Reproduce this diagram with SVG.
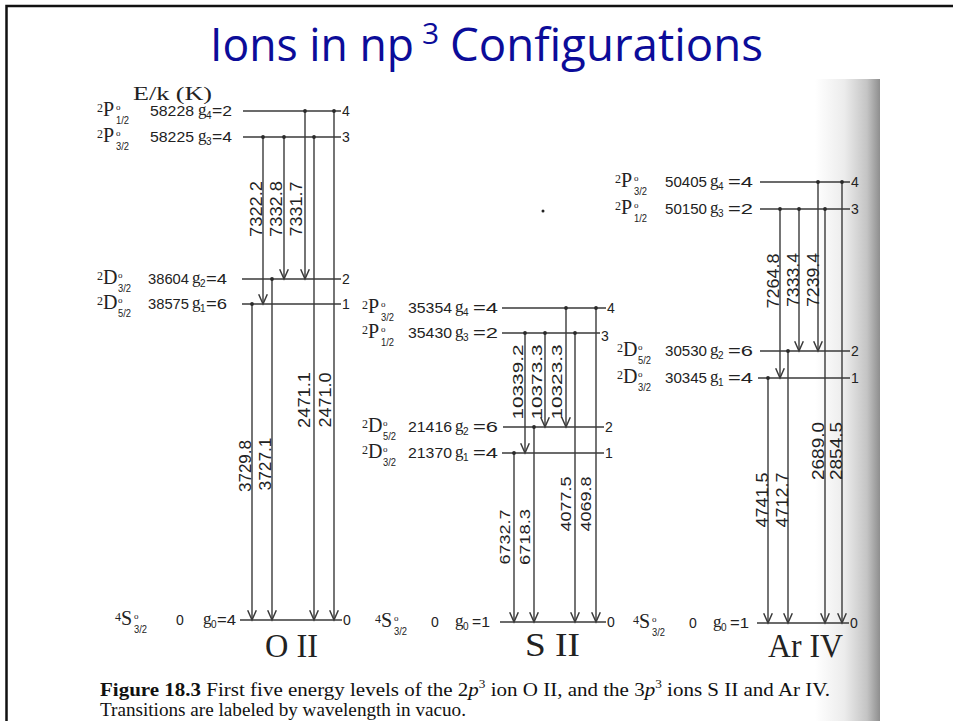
<svg xmlns="http://www.w3.org/2000/svg" width="953" height="721" viewBox="0 0 953 721">
<defs>
<linearGradient id="edge" x1="0" y1="0" x2="1" y2="0">
<stop offset="0" stop-color="#ffffff"/>
<stop offset="0.45" stop-color="#ececec"/>
<stop offset="0.8" stop-color="#c4c4c4"/>
<stop offset="1" stop-color="#8e8e8e"/>
</linearGradient>
<marker id="ah" markerUnits="userSpaceOnUse" markerWidth="14" markerHeight="14" refX="0" refY="0" viewBox="-11 -6 13 12" orient="auto">
<path d="M-9,-4 L0,0 L-9,4" fill="none" stroke="#3a3a3a" stroke-width="1.4"/>
</marker>
<marker id="dot" markerUnits="userSpaceOnUse" markerWidth="6" markerHeight="6" refX="0" refY="0" viewBox="-3 -3 6 6" orient="auto">
<circle r="1.9" fill="#2a2a2a"/>
</marker>
<style>
.lv{stroke:#3a3a3a;stroke-width:1.5}
.tr{stroke:#3a3a3a;stroke-width:1.4;fill:none;marker-end:url(#ah);marker-start:url(#dot)}
.sup{font-family:"Liberation Serif","Times New Roman",serif;font-size:12px;fill:#222}
.L{font-family:"Liberation Serif","Times New Roman",serif;font-size:20px;fill:#222}
.o{font-family:"Liberation Serif","Times New Roman",serif;font-size:9px;fill:#222}
.fr{font-family:"Liberation Sans",Arial,sans-serif;font-size:11px;fill:#222}
.n{font-family:"Liberation Sans",Arial,sans-serif;font-size:14px;fill:#222}
.g{font-family:"Liberation Serif","Times New Roman",serif;font-size:17px;fill:#222}
.gs{font-family:"Liberation Sans",Arial,sans-serif;font-size:10px;fill:#222}
.e{font-family:"Liberation Sans",Arial,sans-serif;font-size:15px;fill:#222}
.end{font-family:"Liberation Sans",Arial,sans-serif;font-size:14px;fill:#222}
.wl{font-family:"Liberation Sans",Arial,sans-serif;font-size:16px;fill:#222;text-anchor:middle}
.ws{font-family:"Liberation Sans",Arial,sans-serif;font-size:14px;fill:#222;text-anchor:middle}
.ion{font-family:"Liberation Serif","Times New Roman",serif;font-size:33px;fill:#222}
.cap{font-family:"Liberation Serif","Times New Roman",serif;font-size:19px;fill:#111}
.ti{font-family:"Open Sans","Noto Sans",sans-serif;fill:#0c0c99}
</style>
</defs>
<rect width="953" height="721" fill="#ffffff"/>
<rect x="815" y="79" width="65" height="642" fill="url(#edge)"/>
<path d="M6.5,721 V6 H953" fill="none" stroke="#111" stroke-width="2.5"/>
<g id="title">
<text class="ti" x="210" y="61" font-size="45" textLength="204" lengthAdjust="spacingAndGlyphs">Ions in np</text>
<text class="ti" x="422" y="44" font-size="30">3</text>
<text class="ti" x="450" y="61" font-size="46" textLength="313" lengthAdjust="spacingAndGlyphs">Configurations</text>
</g>
<circle cx="543" cy="211" r="1.5" fill="#222"/>
<text x="133" y="100" font-family="'Liberation Serif',serif" font-size="18" fill="#222" textLength="79" lengthAdjust="spacingAndGlyphs">E/k (K)</text>

<g id="OII">
<g id="OII-L4">
<line class="lv" x1="243" y1="111" x2="341" y2="111"/>
<g transform="translate(97,111)"><text class="sup" x="0" y="1">2</text><text class="L" x="6" y="5">P</text><text class="o" x="19" y="-1">o</text><text class="fr" x="19" y="13" textLength="13" lengthAdjust="spacingAndGlyphs">1/2</text><text class="n" x="53" y="5" textLength="44" lengthAdjust="spacingAndGlyphs">58228</text><text class="g" x="101" y="4">g</text><text class="gs" x="109" y="8">4</text><text class="e" x="115" y="5" textLength="20" lengthAdjust="spacingAndGlyphs">=2</text></g>
<text class="end" x="342" y="116">4</text>
</g>
<g id="OII-L3">
<line class="lv" x1="243" y1="137" x2="341" y2="137"/>
<g transform="translate(97,137)"><text class="sup" x="0" y="1">2</text><text class="L" x="6" y="5">P</text><text class="o" x="19" y="-1">o</text><text class="fr" x="19" y="13" textLength="13" lengthAdjust="spacingAndGlyphs">3/2</text><text class="n" x="53" y="5" textLength="44" lengthAdjust="spacingAndGlyphs">58225</text><text class="g" x="101" y="4">g</text><text class="gs" x="109" y="8">3</text><text class="e" x="115" y="5" textLength="20" lengthAdjust="spacingAndGlyphs">=4</text></g>
<text class="end" x="342" y="142">3</text>
</g>
<g id="OII-L2">
<line class="lv" x1="242" y1="279" x2="341" y2="279"/>
<g transform="translate(97,279)"><text class="sup" x="0" y="1">2</text><text class="L" x="6" y="5">D</text><text class="o" x="21" y="-1">o</text><text class="fr" x="21" y="13" textLength="13" lengthAdjust="spacingAndGlyphs">3/2</text><text class="n" x="51" y="5" textLength="41" lengthAdjust="spacingAndGlyphs">38604</text><text class="g" x="95" y="4">g</text><text class="gs" x="103" y="8">2</text><text class="e" x="109" y="5" textLength="21" lengthAdjust="spacingAndGlyphs">=4</text></g>
<text class="end" x="342" y="284">2</text>
</g>
<g id="OII-L1">
<line class="lv" x1="242" y1="304" x2="341" y2="304"/>
<g transform="translate(97,304)"><text class="sup" x="0" y="1">2</text><text class="L" x="6" y="5">D</text><text class="o" x="21" y="-1">o</text><text class="fr" x="21" y="13" textLength="13" lengthAdjust="spacingAndGlyphs">5/2</text><text class="n" x="51" y="5" textLength="41" lengthAdjust="spacingAndGlyphs">38575</text><text class="g" x="95" y="4">g</text><text class="gs" x="103" y="8">1</text><text class="e" x="109" y="5" textLength="21" lengthAdjust="spacingAndGlyphs">=6</text></g>
<text class="end" x="342" y="309">1</text>
</g>
<g id="OII-L0">
<line class="lv" x1="240" y1="620" x2="342" y2="620"/>
<g transform="translate(115,620)"><text class="sup" x="0" y="1">4</text><text class="L" x="6" y="5">S</text><text class="o" x="19" y="-1">o</text><text class="fr" x="19" y="13" textLength="13" lengthAdjust="spacingAndGlyphs">3/2</text><text class="n" x="61" y="5">0</text><text class="g" x="88" y="4">g</text><text class="gs" x="96" y="8">0</text><text class="e" x="102" y="5" textLength="19" lengthAdjust="spacingAndGlyphs">=4</text></g>
<text class="end" x="343" y="625">0</text>
</g>
<text class="ion" x="265" y="657" textLength="53" lengthAdjust="spacingAndGlyphs">O II</text>
</g>

<g id="SII">
<g id="SII-L4">
<line class="lv" x1="502" y1="308" x2="606" y2="308"/>
<g transform="translate(362,308)"><text class="sup" x="0" y="1">2</text><text class="L" x="6" y="5">P</text><text class="o" x="19" y="-1">o</text><text class="fr" x="19" y="13" textLength="13" lengthAdjust="spacingAndGlyphs">3/2</text><text class="n" x="46" y="5" textLength="44" lengthAdjust="spacingAndGlyphs">35354</text><text class="g" x="93" y="4">g</text><text class="gs" x="101" y="8">4</text><text class="e" x="111" y="5" textLength="25" lengthAdjust="spacingAndGlyphs">=4</text></g>
<text class="end" x="607" y="313">4</text>
</g>
<g id="SII-L3">
<line class="lv" x1="502" y1="333" x2="600" y2="333"/>
<g transform="translate(362,333)"><text class="sup" x="0" y="1">2</text><text class="L" x="6" y="5">P</text><text class="o" x="19" y="-1">o</text><text class="fr" x="19" y="13" textLength="13" lengthAdjust="spacingAndGlyphs">1/2</text><text class="n" x="46" y="5" textLength="44" lengthAdjust="spacingAndGlyphs">35430</text><text class="g" x="93" y="4">g</text><text class="gs" x="101" y="8">3</text><text class="e" x="111" y="5" textLength="25" lengthAdjust="spacingAndGlyphs">=2</text></g>
<text class="end" x="601" y="341">3</text>
</g>
<g id="SII-L2">
<line class="lv" x1="503" y1="427" x2="604" y2="427"/>
<g transform="translate(362,427)"><text class="sup" x="0" y="1">2</text><text class="L" x="6" y="5">D</text><text class="o" x="21" y="-1">o</text><text class="fr" x="21" y="13" textLength="13" lengthAdjust="spacingAndGlyphs">5/2</text><text class="n" x="46" y="5" textLength="44" lengthAdjust="spacingAndGlyphs">21416</text><text class="g" x="93" y="4">g</text><text class="gs" x="101" y="8">2</text><text class="e" x="111" y="5" textLength="25" lengthAdjust="spacingAndGlyphs">=6</text></g>
<text class="end" x="605" y="432">2</text>
</g>
<g id="SII-L1">
<line class="lv" x1="502" y1="453" x2="604" y2="453"/>
<g transform="translate(362,453)"><text class="sup" x="0" y="1">2</text><text class="L" x="6" y="5">D</text><text class="o" x="21" y="-1">o</text><text class="fr" x="21" y="13" textLength="13" lengthAdjust="spacingAndGlyphs">3/2</text><text class="n" x="46" y="5" textLength="44" lengthAdjust="spacingAndGlyphs">21370</text><text class="g" x="93" y="4">g</text><text class="gs" x="101" y="8">1</text><text class="e" x="111" y="5" textLength="25" lengthAdjust="spacingAndGlyphs">=4</text></g>
<text class="end" x="605" y="458">1</text>
</g>
<g id="SII-L0">
<line class="lv" x1="500" y1="622" x2="606" y2="622"/>
<g transform="translate(375,622)"><text class="sup" x="0" y="1">4</text><text class="L" x="6" y="5">S</text><text class="o" x="19" y="-1">o</text><text class="fr" x="19" y="13" textLength="13" lengthAdjust="spacingAndGlyphs">3/2</text><text class="n" x="56" y="5">0</text><text class="g" x="80" y="4">g</text><text class="gs" x="88" y="8">0</text><text class="e" x="97" y="5" textLength="18" lengthAdjust="spacingAndGlyphs">=1</text></g>
<text class="end" x="607" y="627">0</text>
</g>
<text class="ion" x="525" y="656" textLength="55" lengthAdjust="spacingAndGlyphs">S II</text>
</g>

<g id="ArIV">
<g id="ArIV-L4">
<line class="lv" x1="760" y1="182" x2="850" y2="182"/>
<g transform="translate(615,182)"><text class="sup" x="0" y="1">2</text><text class="L" x="6" y="5">P</text><text class="o" x="19" y="-1">o</text><text class="fr" x="19" y="13" textLength="13" lengthAdjust="spacingAndGlyphs">3/2</text><text class="n" x="50" y="5" textLength="42" lengthAdjust="spacingAndGlyphs">50405</text><text class="g" x="95" y="4">g</text><text class="gs" x="103" y="8">4</text><text class="e" x="113" y="5" textLength="25" lengthAdjust="spacingAndGlyphs">=4</text></g>
<text class="end" x="851" y="187">4</text>
</g>
<g id="ArIV-L3">
<line class="lv" x1="760" y1="209" x2="850" y2="209"/>
<g transform="translate(615,209)"><text class="sup" x="0" y="1">2</text><text class="L" x="6" y="5">P</text><text class="o" x="19" y="-1">o</text><text class="fr" x="19" y="13" textLength="13" lengthAdjust="spacingAndGlyphs">1/2</text><text class="n" x="50" y="5" textLength="42" lengthAdjust="spacingAndGlyphs">50150</text><text class="g" x="95" y="4">g</text><text class="gs" x="103" y="8">3</text><text class="e" x="113" y="5" textLength="25" lengthAdjust="spacingAndGlyphs">=2</text></g>
<text class="end" x="851" y="214">3</text>
</g>
<g id="ArIV-L2">
<line class="lv" x1="760" y1="351" x2="850" y2="351"/>
<g transform="translate(617,351)"><text class="sup" x="0" y="1">2</text><text class="L" x="6" y="5">D</text><text class="o" x="21" y="-1">o</text><text class="fr" x="21" y="13" textLength="13" lengthAdjust="spacingAndGlyphs">5/2</text><text class="n" x="48" y="5" textLength="42" lengthAdjust="spacingAndGlyphs">30530</text><text class="g" x="93" y="4">g</text><text class="gs" x="101" y="8">2</text><text class="e" x="111" y="5" textLength="25" lengthAdjust="spacingAndGlyphs">=6</text></g>
<text class="end" x="851" y="356">2</text>
</g>
<g id="ArIV-L1">
<line class="lv" x1="758" y1="378" x2="850" y2="378"/>
<g transform="translate(617,378)"><text class="sup" x="0" y="1">2</text><text class="L" x="6" y="5">D</text><text class="o" x="21" y="-1">o</text><text class="fr" x="21" y="13" textLength="13" lengthAdjust="spacingAndGlyphs">3/2</text><text class="n" x="48" y="5" textLength="42" lengthAdjust="spacingAndGlyphs">30345</text><text class="g" x="93" y="4">g</text><text class="gs" x="101" y="8">1</text><text class="e" x="111" y="5" textLength="25" lengthAdjust="spacingAndGlyphs">=4</text></g>
<text class="end" x="851" y="383">1</text>
</g>
<g id="ArIV-L0">
<line class="lv" x1="757" y1="623" x2="849" y2="623"/>
<g transform="translate(633,623)"><text class="sup" x="0" y="1">4</text><text class="L" x="6" y="5">S</text><text class="o" x="19" y="-1">o</text><text class="fr" x="19" y="13" textLength="13" lengthAdjust="spacingAndGlyphs">3/2</text><text class="n" x="56" y="5">0</text><text class="g" x="80" y="4">g</text><text class="gs" x="88" y="8">0</text><text class="e" x="97" y="5" textLength="19" lengthAdjust="spacingAndGlyphs">=1</text></g>
<text class="end" x="850" y="628">0</text>
</g>
<text class="ion" x="768" y="657" textLength="75" lengthAdjust="spacingAndGlyphs">Ar IV</text>
</g>

<g id="connectors">
<path class="tr" d="M305,111 V279"/>
<path class="tr" d="M263,137 V304"/>
<path class="tr" d="M284,137 V279"/>
<path class="tr" d="M334,111 V620"/>
<path class="tr" d="M314,137 V620"/>
<path class="tr" d="M272,279 V620"/>
<path class="tr" d="M252,304 V620"/>
<path class="tr" d="M566,308 V427"/>
<path class="tr" d="M596,308 V622"/>
<path class="tr" d="M525,333 V453"/>
<path class="tr" d="M545,333 V427"/>
<path class="tr" d="M575,333 V622"/>
<path class="tr" d="M534,427 V622"/>
<path class="tr" d="M514,453 V622"/>
<path class="tr" d="M818,182 V351"/>
<path class="tr" d="M842,182 V623"/>
<path class="tr" d="M780,209 V378"/>
<path class="tr" d="M799,209 V351"/>
<path class="tr" d="M825,209 V623"/>
<path class="tr" d="M788,351 V623"/>
<path class="tr" d="M768,378 V623"/>
</g>

<g id="wavelengths">
<text class="wl" transform="translate(262,209) rotate(-90)" textLength="56" lengthAdjust="spacingAndGlyphs">7322.2</text>
<text class="wl" transform="translate(282,209) rotate(-90)" textLength="56" lengthAdjust="spacingAndGlyphs">7332.8</text>
<text class="wl" transform="translate(302,209) rotate(-90)" textLength="55" lengthAdjust="spacingAndGlyphs">7331.7</text>
<text class="wl" transform="translate(251,466) rotate(-90)" textLength="52" lengthAdjust="spacingAndGlyphs">3729.8</text>
<text class="wl" transform="translate(271,464) rotate(-90)" textLength="53" lengthAdjust="spacingAndGlyphs">3727.1</text>
<text class="wl" transform="translate(310,400) rotate(-90)" textLength="56" lengthAdjust="spacingAndGlyphs">2471.1</text>
<text class="wl" transform="translate(331,400) rotate(-90)" textLength="55" lengthAdjust="spacingAndGlyphs">2471.0</text>
<text class="ws" transform="translate(523,382) rotate(-90)" textLength="75" lengthAdjust="spacingAndGlyphs">10339.2</text>
<text class="ws" transform="translate(542,382) rotate(-90)" textLength="75" lengthAdjust="spacingAndGlyphs">10373.3</text>
<text class="ws" transform="translate(562,382) rotate(-90)" textLength="75" lengthAdjust="spacingAndGlyphs">10323.3</text>
<text class="ws" transform="translate(510,537) rotate(-90)" textLength="55" lengthAdjust="spacingAndGlyphs">6732.7</text>
<text class="ws" transform="translate(530,537) rotate(-90)" textLength="56" lengthAdjust="spacingAndGlyphs">6718.3</text>
<text class="ws" transform="translate(571,504) rotate(-90)" textLength="55" lengthAdjust="spacingAndGlyphs">4077.5</text>
<text class="ws" transform="translate(591,504) rotate(-90)" textLength="55" lengthAdjust="spacingAndGlyphs">4069.8</text>
<text class="wl" transform="translate(779,281) rotate(-90)" textLength="55" lengthAdjust="spacingAndGlyphs">7264.8</text>
<text class="wl" transform="translate(799,280) rotate(-90)" textLength="54" lengthAdjust="spacingAndGlyphs">7333.4</text>
<text class="wl" transform="translate(819,280) rotate(-90)" textLength="54" lengthAdjust="spacingAndGlyphs">7239.4</text>
<text class="wl" transform="translate(768,500) rotate(-90)" textLength="55" lengthAdjust="spacingAndGlyphs">4741.5</text>
<text class="wl" transform="translate(788,500) rotate(-90)" textLength="55" lengthAdjust="spacingAndGlyphs">4712.7</text>
<text class="wl" transform="translate(824,451) rotate(-90)" textLength="58" lengthAdjust="spacingAndGlyphs">2689.0</text>
<text class="wl" transform="translate(842,451) rotate(-90)" textLength="58" lengthAdjust="spacingAndGlyphs">2854.5</text>
</g>

<text class="cap" x="100" y="696" textLength="730" lengthAdjust="spacingAndGlyphs"><tspan font-weight="bold">Figure 18.3</tspan> First five energy levels of the 2<tspan font-style="italic">p</tspan><tspan font-size="12" dy="-8">3</tspan><tspan dy="8"> ion O II, and the 3</tspan><tspan font-style="italic">p</tspan><tspan font-size="12" dy="-8">3</tspan><tspan dy="8"> ions S II and Ar IV.</tspan></text>
<text class="cap" x="100" y="716" textLength="366" lengthAdjust="spacingAndGlyphs">Transitions are labeled by wavelength in vacuo.</text>
</svg>
